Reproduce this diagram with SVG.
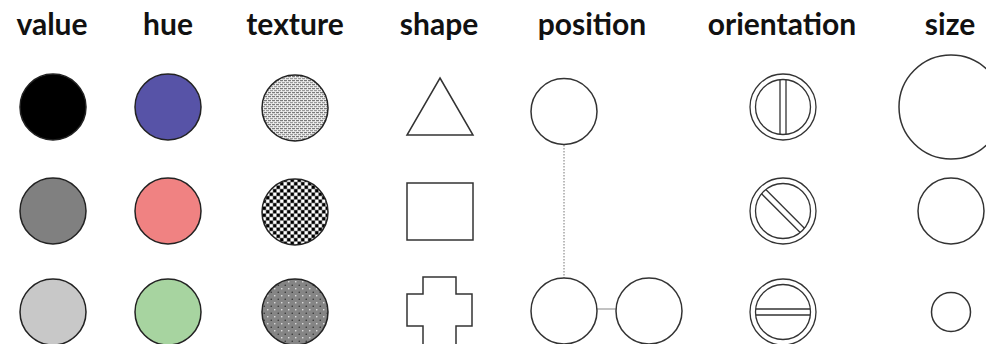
<svg xmlns="http://www.w3.org/2000/svg" width="986" height="344" viewBox="0 0 986 344">
  <style>
    .lbl { font-family: Lato, "Open Sans", "DejaVu Sans", sans-serif; font-weight: 700; font-size: 30px; fill: #111; text-anchor: middle; }
    .fill { stroke: #222; stroke-width: 1.5; }
    .out { fill: #fff; stroke: #333; stroke-width: 1.5; }
    .thin { fill: none; stroke: #333; stroke-width: 1.3; }
  </style>
  <defs>
    <pattern id="tex1" width="4" height="4" patternUnits="userSpaceOnUse">
      <rect width="4" height="4" fill="#eeeeee"/>
      <rect x="0" y="0" width="3" height="1.2" fill="#7a7a7a"/>
      <rect x="2" y="2" width="3" height="1.2" fill="#9a9a9a"/>
      <rect x="-2" y="2" width="3" height="1.2" fill="#9a9a9a"/>
    </pattern>
    <pattern id="tex2" width="7" height="7" patternUnits="userSpaceOnUse">
      <rect width="7" height="7" fill="#808080"/>
      <rect x="0.3" y="0.3" width="2.9" height="2.9" fill="#000"/>
      <rect x="3.8" y="3.8" width="2.9" height="2.9" fill="#000"/>
      <rect x="3.8" y="0.3" width="2.9" height="2.9" fill="#fff"/>
      <rect x="0.3" y="3.8" width="2.9" height="2.9" fill="#fff"/>
    </pattern>
    <pattern id="tex3" width="7" height="7" patternUnits="userSpaceOnUse">
      <rect width="7" height="7" fill="#858585"/>
      <circle cx="1.75" cy="1.75" r="0.8" fill="#e8e8e8"/>
      <circle cx="5.25" cy="5.25" r="0.8" fill="#333"/>
    </pattern>
    <g id="orient">
      <circle r="33" class="thin"/>
      <circle r="27.5" class="thin"/>
      <line x1="-3" y1="-27.3" x2="-3" y2="27.3" class="thin"/>
      <line x1="3" y1="-27.3" x2="3" y2="27.3" class="thin"/>
    </g>
  </defs>
  <rect width="986" height="344" fill="#fff"/>

  <g id="labels">
    <text class="lbl" x="52" y="35">value</text>
    <text class="lbl" x="168" y="35">hue</text>
    <text class="lbl" x="295" y="35">texture</text>
    <text class="lbl" x="439" y="35">shape</text>
    <text class="lbl" x="592" y="35">position</text>
    <text class="lbl" x="782" y="35">orientation</text>
    <text class="lbl" x="950" y="35">size</text>
  </g>

  <g id="value">
    <circle id="value-1" cx="53" cy="107" r="33" fill="#000" class="fill"/>
    <circle id="value-2" cx="53" cy="211" r="33" fill="#808080" class="fill"/>
    <circle id="value-3" cx="53" cy="312" r="33" fill="#c8c8c8" class="fill"/>
  </g>

  <g id="hue">
    <circle id="hue-1" cx="168" cy="107" r="33" fill="#5753a7" class="fill"/>
    <circle id="hue-2" cx="168" cy="211" r="33" fill="#f08282" class="fill"/>
    <circle id="hue-3" cx="168" cy="312" r="33" fill="#a7d4a0" class="fill"/>
  </g>

  <g id="texture">
    <circle id="texture-1" cx="295" cy="108" r="33" fill="url(#tex1)" class="fill"/>
    <circle id="texture-2" cx="295" cy="212" r="33" fill="url(#tex2)" class="fill"/>
    <circle id="texture-3" cx="295" cy="312" r="33" fill="url(#tex3)" class="fill"/>
  </g>

  <g id="shape">
    <polygon id="shape-1" points="440,78 473,135 407,135" class="out"/>
    <rect id="shape-2" x="407" y="183" width="66" height="57" class="out"/>
    <polygon id="shape-3" points="423,277 456,277 456,294 472,294 472,326 456,326 456,345 423,345 423,326 407,326 407,294 423,294" class="out"/>
  </g>

  <g id="connectors">
    <line x1="564" y1="145" x2="564" y2="278" stroke="#777" stroke-width="1" stroke-dasharray="1.5 1.5"/>
    <line x1="597" y1="309" x2="616" y2="309" stroke="#999" stroke-width="1.2"/>
  </g>

  <g id="position">
    <circle id="position-1" cx="564" cy="111.5" r="33" class="out"/>
    <circle id="position-2" cx="564" cy="311" r="33" class="out"/>
    <circle id="position-3" cx="649" cy="311" r="33" class="out"/>
  </g>

  <g id="orientation">
    <use id="orientation-1" href="#orient" transform="translate(783,107)"/>
    <use id="orientation-2" href="#orient" transform="translate(783,211) rotate(-45)"/>
    <use id="orientation-3" href="#orient" transform="translate(783,312) rotate(90)"/>
  </g>

  <g id="size">
    <circle id="size-1" cx="951" cy="107" r="52" class="out"/>
    <circle id="size-2" cx="951" cy="211" r="33" class="out"/>
    <circle id="size-3" cx="951" cy="312" r="19.5" class="out"/>
  </g>
</svg>
